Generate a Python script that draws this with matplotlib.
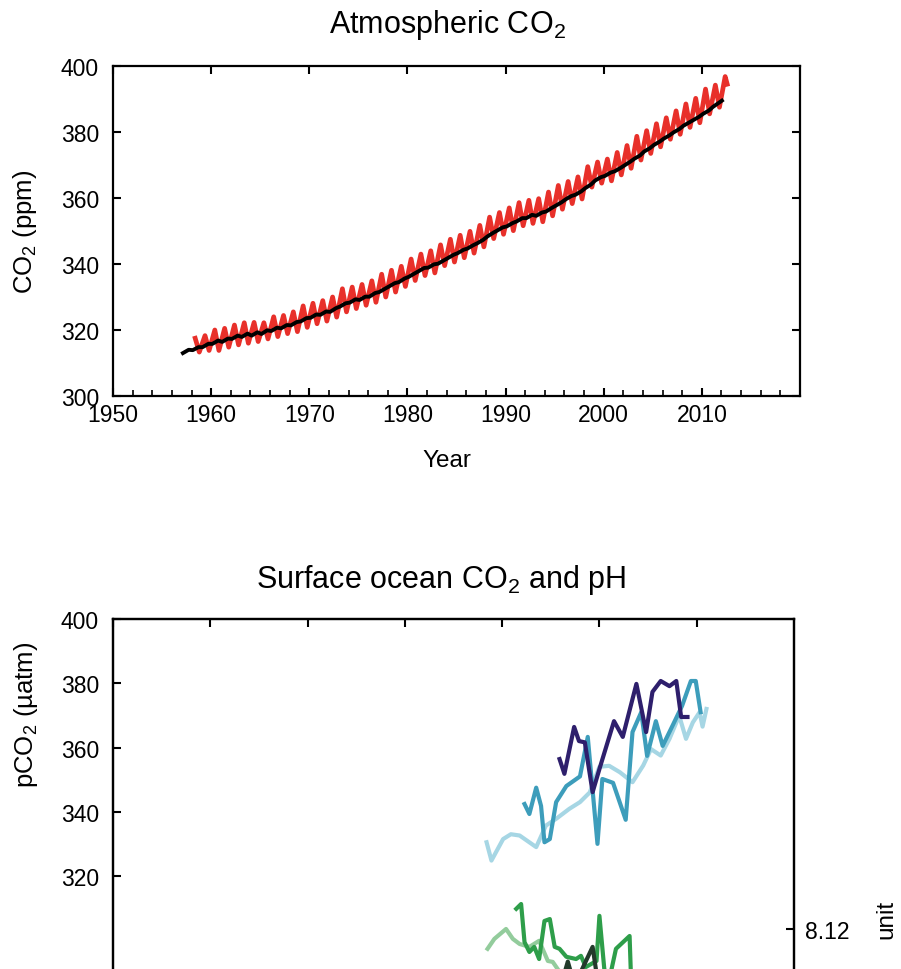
import numpy as np
import matplotlib
matplotlib.use("Agg")
import matplotlib.pyplot as plt

plt.rcParams['font.family'] = ['Liberation Sans', 'DejaVu Sans']
plt.rcParams['mathtext.fontset'] = 'custom'
plt.rcParams['mathtext.rm'] = 'Liberation Sans'
plt.rcParams['mathtext.default'] = 'regular'

# ---- atmospheric CO2 (ppm) ----
# Mauna Loa: yearly seasonal maximum (May) and minimum (October)
ml_years = list(range(1958, 2013))
ml_peak = [317.5, 318.3, 320.0, 320.5, 321.5, 322.2, 322.3, 322.2, 324.0, 324.4,
           325.5, 327.3, 328.1, 328.9, 330.0, 332.5, 333.0, 333.8, 334.9, 336.9,
           338.1, 339.3, 341.5, 343.0, 344.0, 345.8, 347.5, 348.7, 349.9, 351.7,
           354.2, 355.6, 357.0, 358.6, 359.3, 359.8, 361.8, 363.8, 365.0, 366.4,
           369.5, 370.9, 371.8, 373.8, 375.9, 378.7, 380.4, 382.5, 384.3, 386.4,
           388.5, 390.2, 393.0, 394.2, 396.8]
ml_trough = [313.3, 313.8, 313.8, 314.8, 315.5, 316.0, 316.5, 317.3, 318.0, 318.9,
             319.5, 320.8, 321.9, 322.7, 323.9, 325.5, 326.5, 327.5, 328.4, 330.0,
             331.5, 333.2, 335.0, 336.5, 337.3, 339.5, 340.6, 341.9, 343.3, 345.2,
             347.7, 349.0, 350.1, 351.6, 352.3, 352.8, 354.6, 356.6, 358.3, 359.7,
             363.3, 364.5, 365.2, 367.0, 369.0, 371.5, 373.5, 375.5, 377.8, 379.3,
             381.4, 382.8, 385.5, 387.5, 394.5]

# South Pole: early-year and late-year values
sp_years = list(range(1957, 2012))
sp_low = [313.0, 313.9, 314.8, 315.8, 316.4, 317.3, 317.9, 318.3, 318.8, 319.7,
          320.5, 321.4, 322.6, 323.7, 324.6, 325.5, 327.1, 328.3, 329.1, 330.1,
          331.5, 333.2, 334.5, 336.1, 337.8, 338.9, 340.1, 341.8, 343.3, 344.7,
          346.3, 348.3, 350.1, 351.4, 352.9, 353.9, 354.6, 355.9, 357.7, 359.6,
          361.0, 363.0, 365.3, 366.7, 368.1, 369.9, 371.9, 374.1, 376.1, 378.0,
          379.9, 381.9, 383.6, 385.5, 387.6]
sp_high = [314.0, 314.8, 315.8, 316.8, 317.4, 318.3, 318.9, 319.3, 319.9, 320.7,
           321.5, 322.4, 323.6, 324.7, 325.6, 326.6, 328.1, 329.3, 330.1, 331.2,
           332.5, 334.2, 335.6, 337.1, 338.8, 339.9, 341.1, 342.8, 344.3, 345.7,
           347.3, 349.4, 351.1, 352.4, 353.9, 354.9, 355.6, 357.0, 358.7, 360.6,
           362.0, 364.1, 366.3, 367.7, 369.1, 371.0, 372.9, 375.1, 377.1, 379.0,
           380.9, 382.9, 384.6, 386.5, 389.5]

# ---- surface ocean pCO2 (uatm) ----
navy_years = [1995.9, 1996.4, 1997.4, 1997.9, 1998.5, 1999.3, 2000.0, 2001.5, 2002.4,
              2003.8, 2004.8, 2005.45, 2006.3, 2007.2, 2007.9, 2008.4, 2009.05]
navy_pco2 = [356.4, 351.8, 366.4, 362.0, 361.6, 346.1, 353.3, 368.2, 363.3,
             379.8, 364.8, 377.3, 380.7, 379.1, 380.7, 369.5, 369.5]

teal_years = [1992.3, 1992.8, 1993.5, 1994.0, 1994.35, 1994.9, 1995.55, 1996.6, 1998.0,
              1998.8, 1999.8, 2000.3, 2001.4, 2002.7, 2003.4, 2004.3, 2004.9, 2005.8,
              2006.5, 2007.5, 2008.5, 2009.4, 2009.9, 2010.4]
teal_pco2 = [342.4, 339.3, 347.5, 341.8, 330.5, 331.5, 343.0, 348.0, 351.0,
             363.3, 330.0, 350.2, 349.0, 337.5, 364.8, 371.0, 357.4, 368.2,
             360.5, 366.7, 373.0, 380.7, 380.7, 371.0]

pale_years = [1988.4, 1988.9, 1990.1, 1990.9, 1991.8, 1993.5, 1994.5, 1995.55, 1996.9,
              1998.0, 1999.0, 2000.0, 2001.0, 2002.1, 2003.4, 2004.5, 2005.3, 2006.3,
              2007.2, 2008.2, 2008.9, 2009.6, 2010.3, 2010.6, 2011.0]
pale_pco2 = [330.5, 324.8, 331.5, 333.0, 332.6, 329.0, 335.7, 337.8, 340.9,
             343.0, 346.0, 354.0, 354.3, 352.3, 349.2, 354.4, 359.5, 357.5,
             362.7, 369.9, 362.7, 367.8, 371.0, 366.5, 372.0]

# ---- surface ocean pH ----
lgreen_years = [1988.5, 1989.2, 1990.4, 1991.1, 1991.8, 1992.8, 1993.8, 1994.7, 1995.2,
                1995.7, 1996.5]
lgreen_ph = [8.1138, 8.1169, 8.1200, 8.1169, 8.1153, 8.1144, 8.1163, 8.1100, 8.1097,
             8.1075, 8.1040]

green_years = [1991.45, 1991.95, 1992.3, 1992.8, 1993.3, 1993.8, 1994.35, 1994.9, 1995.4,
               1995.9, 1996.6, 1997.6, 1998.1, 1998.6, 1999.7, 2000.0, 2000.5, 2001.0,
               2001.7, 2003.1, 2003.3]
green_ph = [8.1263, 8.1278, 8.1159, 8.1128, 8.1144, 8.1106, 8.1225, 8.1231, 8.1144,
            8.1138, 8.1113, 8.1106, 8.1116, 8.1081, 8.1100, 8.1241, 8.1075, 8.1040,
            8.1138, 8.1178, 8.1000]

dark_years = [1996.2, 1996.75, 1997.2, 1998.0, 1999.3, 1999.85]
dark_ph = [8.1040, 8.1098, 8.1050, 8.1060, 8.1144, 8.1030]

# month of seasonal max / min -> decimal year
ml_t = []
ml_v = []
for y, hi, lo in zip(ml_years, ml_peak, ml_trough):
    ml_t += [y + 4.5 / 12, y + 9.5 / 12]
    ml_v += [hi, lo]
ml_t[-1] = ml_years[-1] + 7.0 / 12

sp_t = []
sp_v = []
for y, lo, hi in zip(sp_years, sp_low, sp_high):
    sp_t += [y + 1.5 / 12, y + 8.5 / 12]
    sp_v += [lo, hi]
sp_t[-1] = sp_years[-1] + 12.5 / 12

fig = plt.figure(figsize=(9.01, 9.70), dpi=100)
W, H = 901.0, 970.0

def style_axes(ax):
    for s in ax.spines.values():
        s.set_linewidth(1.6)
    ax.tick_params(which='major', direction='in', length=6, width=1.5,
                   labelsize=16.5, pad=5)
    ax.tick_params(which='minor', direction='in', length=4, width=1.2)

# top panel
ax1 = fig.add_axes([113 / W, 1 - 397 / H, 687 / W, 330 / H])
ax1.plot(ml_t, ml_v, color='#e8302a', lw=3.4, solid_joinstyle='round')
ax1.plot(sp_t, sp_v, color='black', lw=2.8, solid_joinstyle='round')
ax1.set_xticks(range(1950, 2011, 10))
ax1.set_xticks(range(1950, 2020, 2), minor=True)
ax1.set_yticks(range(300, 401, 20))
ax1.set_xlim(1950, 2020)
ax1.set_ylim(300, 400)
style_axes(ax1)
ax1.tick_params(axis='y', right=True, pad=10)
ax1.tick_params(axis='x', which='major', top=True)
ax1.set_xlabel('Year', fontsize=17.5)
ax1.xaxis.set_label_coords(0.486, -0.16)
ax1.set_ylabel('CO$_2$ (ppm)', fontsize=18.5)
ax1.yaxis.set_label_coords(-0.107, 0.5)
fig.text(447 / W, 1 - 25 / H, 'Atmospheric CO$_2$', fontsize=22,
         ha='center', va='center')

# bottom panel (extends below the visible area)
ax2 = fig.add_axes([113 / W, 1 - 1069.75 / H, 681 / W, 449.75 / H])
ax3 = ax2.twinx()
ax2.plot(pale_years, pale_pco2, color='#a6d6e4', lw=3.0)
ax2.plot(teal_years, teal_pco2, color='#3d9dbb', lw=3.0)
ax2.plot(navy_years, navy_pco2, color='#2e1f6c', lw=3.0)
ax3.plot(lgreen_years, lgreen_ph, color='#93cc9c', lw=3.0)
ax3.plot(green_years, green_ph, color='#2e9e4a', lw=3.0)
ax3.plot(dark_years, dark_ph, color='#233a2b', lw=3.0)
ax2.set_xticks(range(1950, 2011, 10))
ax2.set_yticks(range(320, 401, 20))
ax3.set_yticks([8.12])
ax3.set_yticklabels(['8.12'])
ax2.set_xlim(1950, 2020)
ax2.set_ylim(260, 400)
ax3.set_ylim(8.0763, 8.2169)
style_axes(ax2)
style_axes(ax3)
ax2.tick_params(axis='x', top=True, labelbottom=False)
ax2.tick_params(axis='y', pad=10)
ax3.tick_params(axis='y', pad=8)
ax2.set_ylabel('pCO$_2$ (µatm)', fontsize=18.5)
ax2.yaxis.set_label_coords(-0.107, 0.789)
fig.text(441 / W, 1 - 580 / H, 'Surface ocean CO$_2$ and pH', fontsize=22,
         ha='center', va='center')
# right axis label: only its last word is inside the visible area
fig.text(886 / W, 1 - 900 / H, 'unit', fontsize=17.5, rotation=90,
         ha='center', va='top')

fig.savefig('out.png', dpi=100)
